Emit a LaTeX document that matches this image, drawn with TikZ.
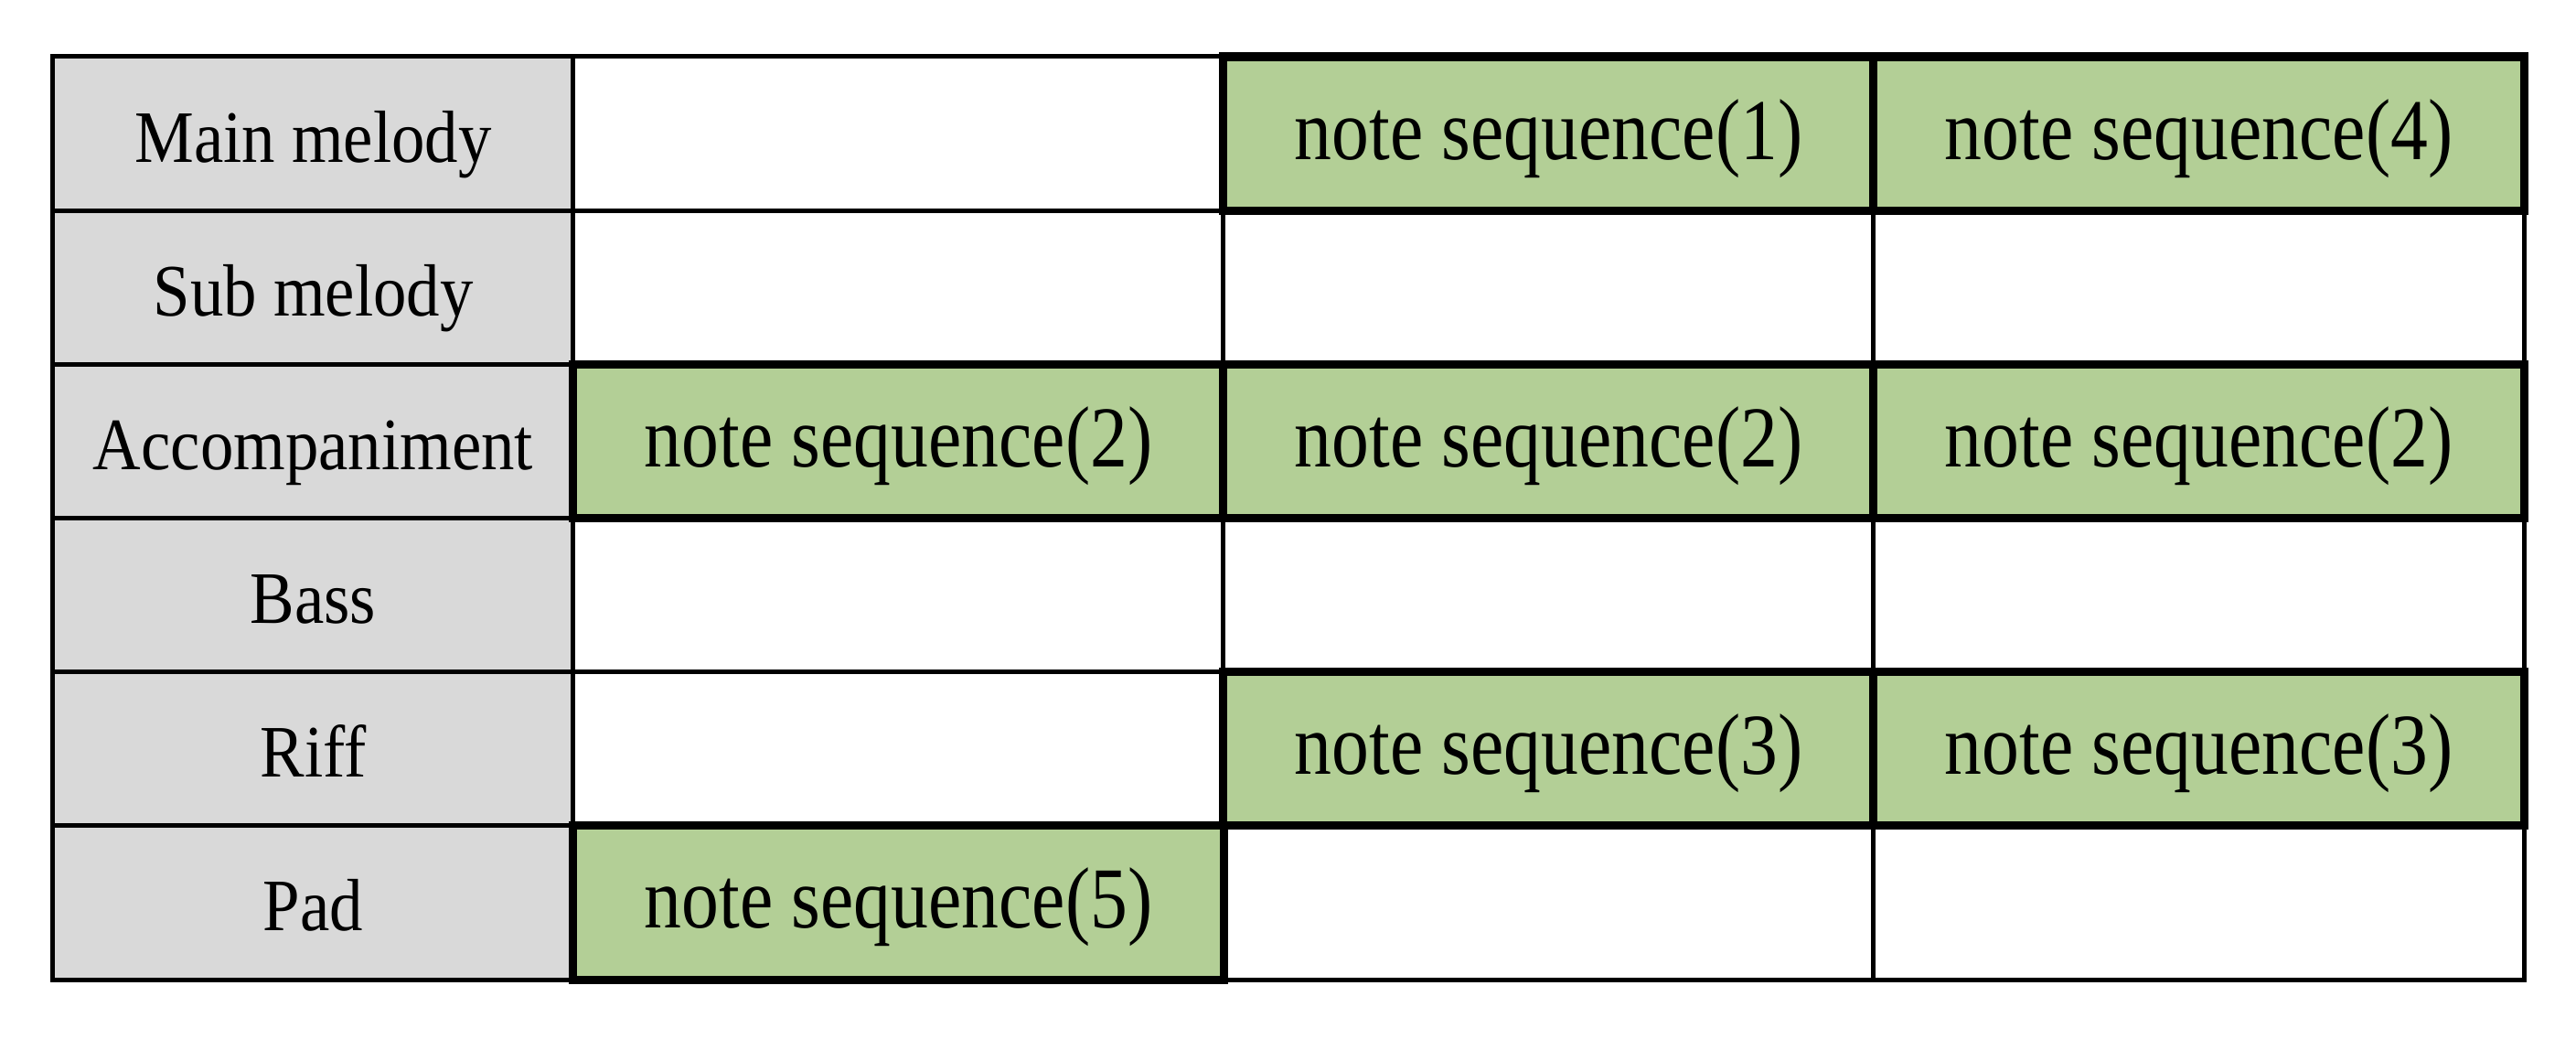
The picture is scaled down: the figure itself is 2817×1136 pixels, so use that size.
\documentclass[tikz,border=0pt]{standalone}
\usepackage{fontspec}
\setmainfont{Liberation Serif}
\newfontfamily\labelfont[FakeStretch=0.9]{Liberation Serif}
\newfontfamily\seqfont[FakeStretch=0.86]{Liberation Serif}

\definecolor{labelgray}{RGB}{217,217,217}
\definecolor{seqgreen}{RGB}{179,207,150}

\tikzset{
    cell/.style={draw, rectangle, inner sep=0pt, line width=1.4pt, minimum height=1.6817cm},
    tracklabel/.style={cell, fill=labelgray, minimum width=5.69cm, text depth=0.2cm, text height=0.82cm, font=\labelfont\fontsize{23}{27}\selectfont},
    blankcell/.style={cell, fill=white, minimum width=7.11cm},
    seqcell/.style={cell, fill=seqgreen, minimum width=7.11cm, line width=2.6pt, text depth=0.2cm, text height=0.76cm, font=\seqfont\fontsize{27}{32}\selectfont}
}

\begin{document}
\begin{tikzpicture}[x=0.01cm, y=-0.01cm]

        \useasboundingbox (0,0) rectangle (2817,1136);

                \foreach \name [count=\r from 0] in {Main melody, Sub melody, Accompaniment, Bass, Riff, Pad} {
                    \node[tracklabel] (track\r) at (342.5, {62+168.17*(\r+0.5)}) {\name};
                }

                \foreach \r/\c in {0/1, 1/1, 1/2, 1/3, 3/1, 3/2, 3/3, 4/1, 5/2, 5/3} {
                    \node[blankcell] (blank\r\c) at ({627+711*(\c-0.5)}, {62+168.17*(\r+0.5)}) {};
                }

                \foreach \r/\c/\k in {0/2/1, 0/3/4, 2/1/2, 2/2/2, 2/3/2, 4/2/3, 4/3/3, 5/1/5} {
                    \node[seqcell] (seq\r\c) at ({627+711*(\c-0.5)}, {62+168.17*(\r+0.5)}) {note sequence(\k)};
                }

            \end{tikzpicture}
\end{document}
